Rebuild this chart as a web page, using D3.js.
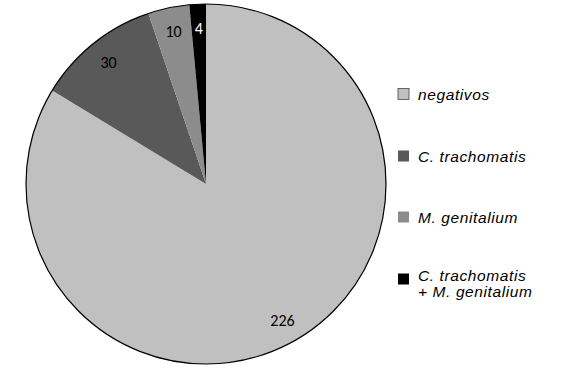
<!DOCTYPE html>
<html><head><meta charset="utf-8">
<script src="https://cdn.jsdelivr.net/npm/d3@7"></script>
<style>body{margin:0;background:#fff}svg{display:block}</style>
</head><body>
<svg id="c" width="562" height="376"></svg>
<script>
const categories = ["negativos", "C. trachomatis", "M. genitalium", "C. trachomatis + M. genitalium"];
const values = [226, 30, 10, 4];
const colors = ["#c0c0c0", "#595959", "#8c8c8c", "#000000"];
const labelColors = ["#000", "#000", "#000", "#fff"];

const svg = d3.select("#c");
const cx = 206, cy = 184, R = 180;
const g = svg.append("g").attr("transform", `translate(${cx},${cy})`);
const pie = d3.pie().sort(null).value(d => d)(values);
const arc = d3.arc().innerRadius(0).outerRadius(R);
const lab = d3.arc().innerRadius(156).outerRadius(156);
g.selectAll("path.s").data(pie).join("path").attr("class","s")
  .attr("d", arc).attr("fill", (d,i) => colors[i]);
g.append("circle").attr("r", R).attr("fill","none").attr("stroke","#000").attr("stroke-width",1.2);
g.selectAll("text").data(pie).join("text")
  .attr("transform", d => `translate(${lab.centroid(d)})`)
  .attr("text-anchor","middle").attr("dy","0.35em")
  .attr("font-family","Carlito, 'Open Sans', 'Liberation Sans', sans-serif").attr("font-size",16)
  .attr("fill", (d,i) => labelColors[i])
  .text(d => d.data);

const legY = [94, 156, 217, 279];
const lg = svg.append("g");
categories.forEach((c, i) => {
  lg.append("rect").attr("x", 398).attr("y", legY[i] - 5.5).attr("width", 11).attr("height", 11)
    .attr("fill", colors[i]).attr("stroke", i === 0 ? "#444" : "none").attr("stroke-width", 0.8);
  const t = lg.append("text").attr("x", 418).attr("font-family","'Liberation Sans', Arial, sans-serif")
    .attr("font-size", 15.5).attr("font-style","italic").attr("fill","#000")
    .attr("letter-spacing", 0.6);
  if (i === 3) {
    t.append("tspan").attr("x", 418).attr("y", 275 + 5.5).text("C. trachomatis");
    t.append("tspan").attr("x", 418).attr("y", 291 + 5.5).text("+ M. genitalium");
  } else {
    t.attr("y", legY[i] + 5.5).text(c);
  }
});
</script>
</body></html>
